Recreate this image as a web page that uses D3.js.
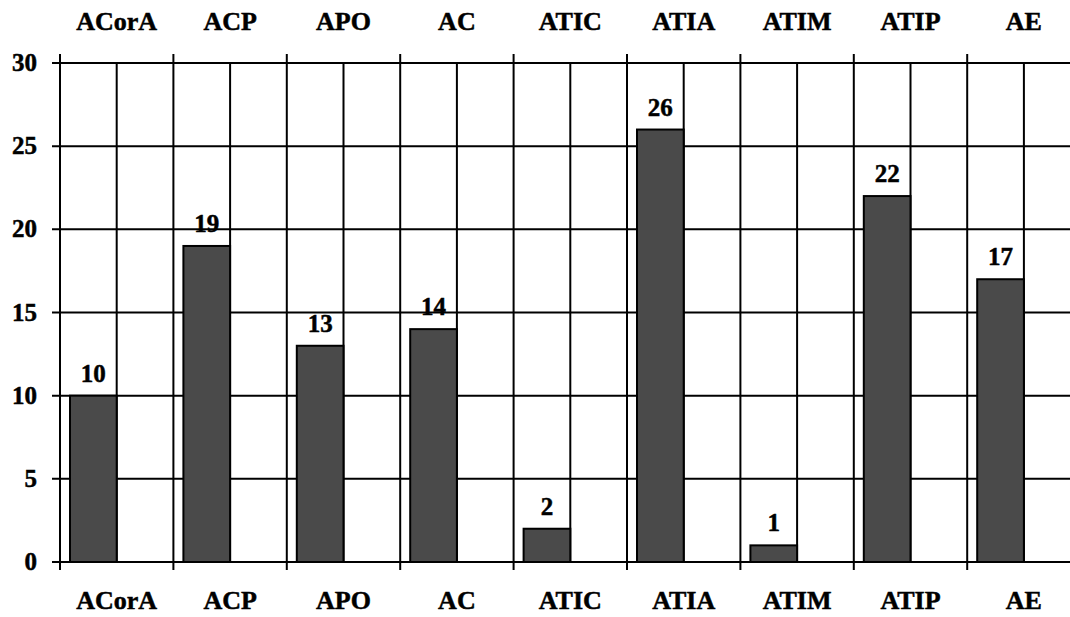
<!DOCTYPE html>
<html>
<head>
<meta charset="utf-8">
<script src="https://cdn.jsdelivr.net/npm/d3@7/dist/d3.min.js"></script>
<style>
  html, body { margin: 0; padding: 0; background: #fff; }
  svg { display: block; }
  text { font-family: "Liberation Serif", "Times New Roman", serif; font-weight: bold; fill: #000; stroke: #000; stroke-width: 0.5px; }
</style>
</head>
<body>
<svg id="chart" width="1070" height="617"></svg>
<script>
const categories = ["ACorA", "ACP", "APO", "AC", "ATIC", "ATIA", "ATIM", "ATIP", "AE"];
const values = [10, 19, 13, 14, 2, 26, 1, 22, 17];
const yTicks = [0, 5, 10, 15, 20, 25, 30];

const W = 1070, H = 617;
const left = 60, bandW = 113.4;
const y0 = 562, yTop = 63;

const svg = d3.select("#chart");

const x = d3.scaleBand()
  .domain(categories)
  .range([left, left + bandW * categories.length])
  .paddingInner(0).paddingOuter(0);

const y = d3.scaleLinear().domain([0, 30]).range([y0, yTop]);

const grid = svg.append("g").attr("stroke", "#000").attr("stroke-width", 2);

// horizontal gridlines with short ticks left of the axis
grid.selectAll("line.h").data(yTicks).join("line")
  .attr("class", "h")
  .attr("x1", left - 8).attr("x2", W)
  .attr("y1", d => y(d)).attr("y2", d => y(d));

// band boundaries, sticking out above the top line and below the baseline
grid.selectAll("line.vb").data(categories).join("line")
  .attr("class", "vb")
  .attr("x1", d => x(d)).attr("x2", d => x(d))
  .attr("y1", yTop - 9).attr("y2", y0 + 8);

// mid-band gridlines
grid.selectAll("line.vm").data(categories).join("line")
  .attr("class", "vm")
  .attr("x1", d => x(d) + x.bandwidth() / 2).attr("x2", d => x(d) + x.bandwidth() / 2)
  .attr("y1", yTop).attr("y2", y0);

// bars: from a small inset in each band up to the band's middle
const inset = 10;
svg.append("g").selectAll("rect").data(values).join("rect")
  .attr("x", (d, i) => x(categories[i]) + inset)
  .attr("width", x.bandwidth() / 2 - inset)
  .attr("y", d => y(d))
  .attr("height", d => y0 - y(d))
  .attr("fill", "#4a4a4a")
  .attr("stroke", "#000")
  .attr("stroke-width", 2);

// value labels above bars
svg.append("g").selectAll("text").data(values).join("text")
  .attr("x", (d, i) => x(categories[i]) + inset / 2 + x.bandwidth() / 4)
  .attr("y", d => y(d) - 14)
  .attr("text-anchor", "middle")
  .attr("font-size", 25)
  .text(d => d);

// y tick labels
svg.append("g").selectAll("text").data(yTicks).join("text")
  .attr("x", 37)
  .attr("y", d => y(d) + 8)
  .attr("text-anchor", "end")
  .attr("font-size", 25)
  .text(d => d);

// category labels on top and bottom
[22 + 8, 601 + 8].forEach(ty => {
  svg.append("g").selectAll("text").data(categories).join("text")
    .attr("x", d => x(d) + x.bandwidth() / 2)
    .attr("y", ty)
    .attr("text-anchor", "middle")
    .attr("font-size", 26)
    .text(d => d);
});
</script>
</body>
</html>
